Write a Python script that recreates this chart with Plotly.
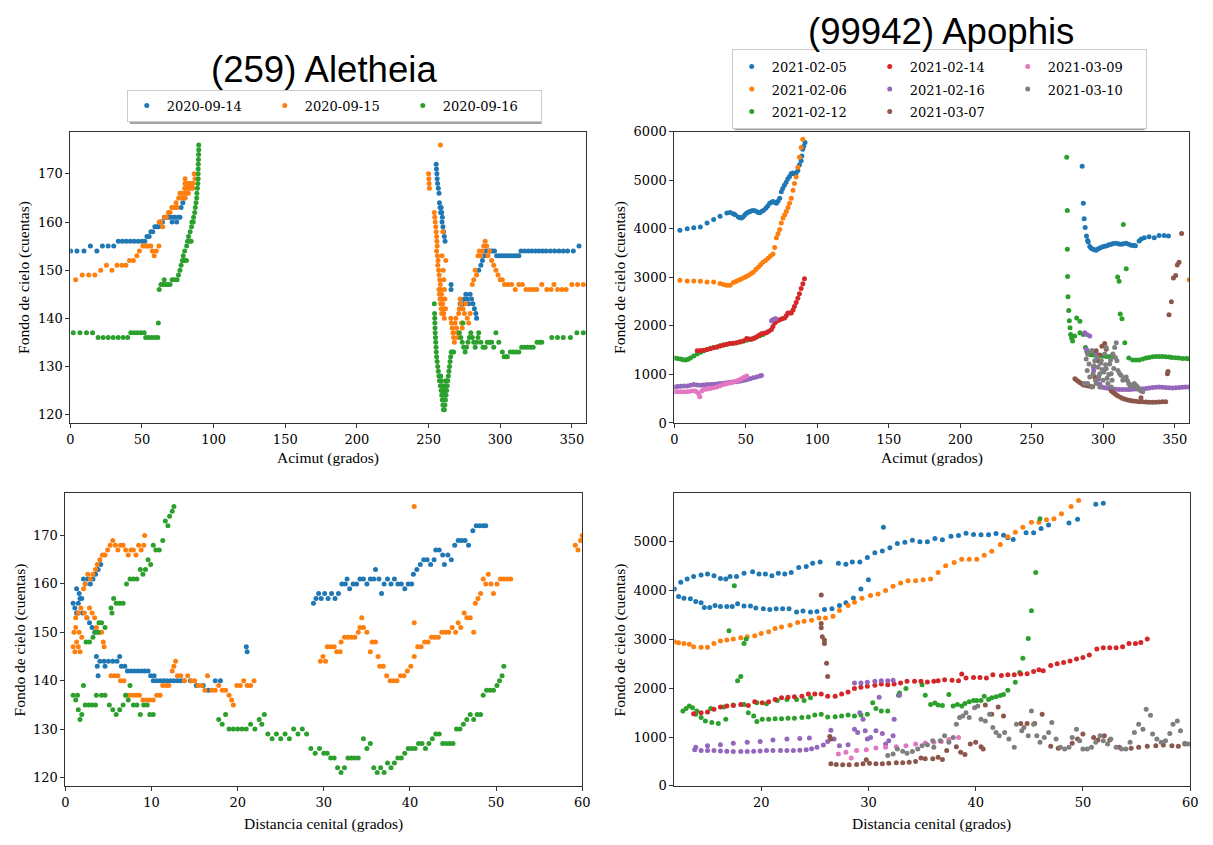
import plotly.graph_objects as go

W, H = 1213, 845

ALE_TITLE = "(259) Aletheia"
APO_TITLE = "(99942) Apophis"
ALE_DATES = ["2020-09-14", "2020-09-15", "2020-09-16"]
APO_DATES = ["2021-02-05", "2021-02-06", "2021-02-12", "2021-02-14",
             "2021-02-16", "2021-03-07", "2021-03-09", "2021-03-10"]
COLORS = ["#1f77b4", "#ff7f0e", "#2ca02c", "#d62728",
          "#9467bd", "#8c564b", "#e377c2", "#7f7f7f"]

AZ_TICKS = [0, 50, 100, 150, 200, 250, 300, 350]
ZD_TICKS_L = [0, 10, 20, 30, 40, 50, 60]
ZD_TICKS_R = [20, 30, 40, 50, 60]
ALE_Y_TICKS = [120, 130, 140, 150, 160, 170]
APO_Y_TICKS_TOP = [0, 1000, 2000, 3000, 4000, 5000, 6000]
APO_Y_TICKS_BOT = [0, 1000, 2000, 3000, 4000, 5000]

# ---------------- (259) Aletheia : sky background vs azimuth ----------------
ALE_AZ_0914 = [(0.2,154),(4.6,154),(9.5,154),(14,155),(18.5,154),(22.4,155),(26.4,155),(30.3,155),(33.5,156),(36.3,156),(39,156),(41.8,156),(44.5,156),(47.3,156),(50,156),(52,156),(53.5,157),(55,157),(56.2,158),(57.5,158),(59,159),(60.3,159),(61.6,159),(63,160),(64.3,160),(65.6,161),(67,161),(68.3,161),(69.6,161),(71,160),(72,161),(73,161),(74.2,160),(75.4,161),(76.5,161),(77.3,163),(78.5,164),(80,165),
    (255.3,172),(255.5,171),(255.8,170),(256,169),(256.3,168),(256.8,167),(257.3,166),(257.6,164),(258,163),(258.4,162),(258.8,163),(259.2,162),(259.6,161),(259.4,160),(260,159),(260.5,158),(261,157),(261.5,156),(265.7,147),(265.7,146),(272,143),(273,142),(274,143),(275,144),(276,145),(277,144),(278,143),(279,145),(280,144),(281,143),(282,142),(283,141),(283.5,140),(285,150),(286.5,151),(287.6,152),(288.8,153),(290,154),(291.5,154),(293,154),(294.5,154),(296,154),(297.5,153),(299.5,153),(301.5,153),(303.5,153),(305.5,153),(307.5,153),(309.5,153),(311.5,153),(313,153),(314.5,154),(317,154),(319.5,154),(322,154),(324.5,154),(327,154),(329.5,154),(332,154),(335,154),(338,154),(341,154),(344,154),(347,154),(351,154),(355,155)]
ALE_AZ_0915 = [(3.7,148),(8.3,149),(12.9,149),(17.1,149),(21.2,150),(25.2,151),(29,150),(32.6,151),(36,151),(38.8,151),(41.3,152),(44,152),(46.4,153),(48.2,154),(50.6,155),(52,155),(53.4,155),(54.8,155),(56.2,155),(57.2,154),(58.5,153),(60,154),(61.8,155),(62,160),(63.2,160),(64.4,159),(65.8,161),(67,161),(68.4,162),(69.6,162),(70.8,163),(72,163),(73.2,163),(74.4,163),(73.8,164),(75.6,165),(77,165),(78.5,165),(80,165),(76.5,166),(78,166),(79.5,166),(81,166),(82.4,166),(79.8,167),(81.2,167),(82.6,167),(84,167),(85.4,167),(80,168),(81.4,168),(82.8,168),(84.2,168),(85.6,168),(80.1,169),(86.4,170),(87,169),
    (250,170),(250.2,169),(250.4,168),(250.6,167),(258.3,176),(254,162),(254.3,161),(254.6,160),(255,159),(255.3,158),(255.6,157),(260,158),(255.8,156),(256,155),(255.6,154),(256.2,153),(256.6,152),(256.4,151),(257,150),(257.4,149),(257.8,148),(258.2,147),(258.6,146),(259,145),(259.4,144),(259.8,143),(260.2,142),(260.6,141),(261,140),(257.2,146),(257.6,145),(258,144),(258.4,143),(258.8,142),(259.2,141),(260.2,150),(260.6,148),(261,146),(261.4,144),(261.8,142),(262,152),(259.4,153),(265.5,140),(266,139),(266.5,138),(267,137),(267.5,136),(268,135),(268.5,139),(269,140),(269.5,138),(270,137),(270.5,136),(271,141),(271.5,142),(272,144),(272.5,143),(273,139),(273.5,138),(274,142),(275,141),(276,143),(277,140),(278,139),(279,141),(280.5,147),(281.5,148),(282.5,150),(283.5,149),(284.5,153),(285.5,154),(286.5,153),(287.5,154),(288.5,155),(289.5,156),(290.5,155),(291.5,153),(292.5,154),(294,152),(295.5,151),(297,150),(298.5,149),(300,148),(301.5,148),(303,147),(305.5,147),(308,147),(310.5,146),(313,147),(315.5,147),(318,146),(320.5,146),(323,146),(325.5,146),(329,147),(332.5,146),(335.5,146),(337.5,147),(340,146),(343,146),(346,146),(350,147),(354,147),(358,147)]
ALE_AZ_0916 = [(2,137),(6.7,137),(11.3,137),(15.5,137),(19.4,136),(22.9,136),(26.4,136),(29.9,136),(33.4,136),(36.9,136),(40,136),(42.2,137),(44.5,137),(46.8,137),(49.2,137),(51.5,137),(52.6,136),(54.7,136),(56.8,136),(59,136),(61,136),(61.4,139),(62,146),(63.2,147),(64.8,147),(66.4,147),(68,147),(69.6,147),(65.5,148),(71,148),(72.8,148),(74.5,148),(75.5,149),(76.5,150),(77.3,151),(78.2,152),(79.5,152),(81,152),(78.8,153),(79.8,154),(81.2,155),(81.8,156),(83,156),(84.3,156),(82.5,157),(83.6,158),(84.6,159),(84.8,160),(85.8,160),(86,161),(86.8,162),(87.2,163),(87.7,164),(88.2,165),(88.3,166),(88.7,167),(89,168),(89.2,169),(89.2,170),(89.2,171),(89.3,172),(89.4,173),(89.5,174),(89.6,175),(89.6,176),
    (254,143),(254.2,141),(254.3,140),(254.4,139),(254.5,138),(254.6,137),(254.8,136),(255,135),(255.2,134),(255.4,133),(255.6,132),(256,131),(256.4,130),(256.8,129),(257.2,128),(257.6,127),(258.2,126),(258.8,125),(259.2,124),(259.6,123),(260,122),(260.4,121),(261,121),(261.4,122),(261.8,123),(262.2,124),(262.6,125),(263,126),(263.4,127),(263.8,128),(264.2,129),(264.6,130),(265,131),(265.4,132),(265.8,133),(258.5,128),(259,127),(259.5,126),(260,125),(260.5,124),(261,125),(261.5,126),(262,127),(266.5,133),(267.5,133),(271.5,137),(272.5,136),(273.5,135),(274,139),(274.5,134),(275.5,133),(276.5,134),(277.5,135),(278.5,136),(279.5,137),(280.5,136),(281.5,135),(282.5,134),(283.5,135),(284.5,136),(285,137),(286.5,135),(288,134),(289.5,134),(291,135),(292.5,135),(294,135),(295.5,134),(297,137),(299,135),(301.5,133),(302.7,132),(304,132),(305,132),(307,133),(309,133),(311,133),(313,133),(315,134),(317,134),(319,134),(321,134),(323,134),(325.7,135),(327.5,135),(329,135),(336,136),(340,136),(344,136),(349,136),(353.5,137),(358,137)]

# ---------------- (259) Aletheia : sky background vs zenith distance ----------------
ALE_ZD_0914 = [(0.9,156),(1.1,155),(1.3,154),(1.5,156),(1.7,157),(1.3,159),(1.6,158),(1.9,157),(2.1,161),(2.3,160),(2.6,161),(2.9,160),(3.2,161),(3.5,162),(3.8,163),(4.1,164),(1.5,154),(2,154),(2.5,153),(2.8,152),(3.1,151),(3.4,150),(3.6,145),(3.7,143),(3.8,141),(4,144),(4.5,144),(5,144),(5.5,144),(6,144),(4.6,143),(6.3,145),(6.5,143),(6.9,143),(7.2,142),(7.6,142),(8,142),(8.4,142),(8.8,142),(9.2,142),(9.6,142),(9.9,141),(10.3,141),(10.2,140),(10.6,140),(11,140),(11.4,140),(11.8,140),(12.2,140),(12.6,140),(13,140),(13.4,140),(13.8,140),(14.5,140),(15.2,139),(16,139),(16.6,138),(17.4,140),(18,140),(21,147),(21.1,146),
    (28.8,156),(29.1,157),(29.4,158),(29.7,157),(30.1,158),(30.5,157),(30.9,158),(31.3,157),(31.7,158),(32.1,160),(32.5,160),(32.7,161),(33,159),(33.4,160),(33.8,160),(34.2,161),(34.6,161),(35,160),(35.4,161),(35.8,161),(36,163),(36.4,161),(36.7,158),(37,160),(37.4,161),(37.8,160),(38.2,161),(38.6,160),(39,160),(39.4,159),(39.8,160),(40.2,160),(40.4,162),(40.8,163),(41.2,164),(41.6,165),(42,165),(42.4,164),(42.8,165),(43,167),(43.4,167),(43.8,166),(44,164),(44.4,166),(44.8,165),(45.2,168),(45.6,169),(46,169),(46.4,169),(46.8,168),(47.3,171),(47.7,172),(48.1,172),(48.5,172),(48.8,172)]
ALE_ZD_0915 = [(0.9,147),(1.1,146),(1.3,148),(1.5,147),(1.7,146),(1.0,150),(1.2,151),(1.6,150),(1.9,149),(1.2,153),(1.5,154),(1.8,155),(2.2,154),(2.5,153),(2.8,155),(3.1,154),(3.4,153),(3.6,151),(3.9,150),(4.2,150),(4.4,148),(4.5,147),(2.1,159),(2.3,160),(2.6,162),(2.9,161),(3.2,162),(3.5,163),(3.7,164),(4.0,165),(4.3,166),(4.6,166),(4.9,167),(5.2,168),(5.5,169),(5.8,168),(6.1,167),(6.4,168),(6.7,168),(7.0,167),(7.3,166),(7.6,167),(7.9,167),(8.2,166),(8.5,168),(8.8,167),(9.1,168),(9.2,170),
    (5.3,141),(5.7,141),(6.1,141),(6.4,140),(6.8,140),(7.0,137),(7.4,137),(7.8,137),(8.2,137),(8.6,137),(9.0,136),(9.4,136),(9.8,136),(10.2,136),(10.6,137),(11.0,137),(11.3,139),(11.7,139),(12.0,139),(12.4,142),(12.6,143),(12.8,144),(13.0,141),(13.4,141),(13.8,140),(14.2,141),(14.6,140),(15.0,140),(15.4,139),(15.8,139),(16.2,138),(16.5,141),(17.0,138),(17.4,138),(17.8,139),(18.2,138),(18.6,138),(19.0,137),(19.3,136),(19.5,135),(19.9,139),(20.3,139),(20.7,140),(21.1,139),(21.5,139),(21.9,140),
    (29.6,144),(29.9,145),(30.2,144),(30.4,147),(30.8,147),(31.2,147),(31.5,146),(31.9,146),(32.0,148),(32.4,149),(32.8,149),(33.2,149),(33.6,149),(34.0,150),(34.2,151),(34.6,151),(34.4,153),(35.0,150),(35.4,146),(35.6,148),(36.0,148),(36.3,145),(36.5,143),(36.9,143),(37.3,141),(37.7,140),(38.1,140),(38.5,140),(38.9,141),(39.3,141),(39.7,142),(40.1,143),(40.5,145),(40.5,152),(40.5,176),(40.9,147),(41.3,147),(41.7,148),(42.1,148),(42.5,149),(42.9,149),(43.3,149),(43.7,150),(44.1,150),(44.5,150),(44.9,151),(45.3,150),(45.6,152),(45.9,151),(46.3,154),(46.6,153),(47.0,153),(47.4,150),(47.6,156),(47.9,157),(48.2,158),(48.5,161),(48.8,160),(49.1,162),(49.4,160),(49.7,158),(50.1,160),(50.5,161),(50.9,161),(51.3,161),(51.7,161),(59.2,168),(59.5,167),(59.8,169),(60.0,170)]
ALE_ZD_0916 = [(0.9,137),(1.2,136),(1.4,137),(1.5,134),(1.7,132),(1.9,133),(2.1,139),(2.3,135),(2.7,135),(3.1,135),(3.5,135),(2.4,148),(2.8,148),(3.2,149),(3.5,150),(3.8,150),(3.6,137),(3.9,152),(4.2,152),(4.6,151),(4.2,137),(4.6,137),(5.1,135),(5.3,155),(5.4,154),(5.6,157),(5.9,156),(6.3,156),(6.7,156),(5.5,134),(5.9,133),(6.3,134),(6.7,135),(7.1,160),(7.5,161),(7.9,161),(8.3,161),(8.7,163),(9,162),(9.3,163),(9.6,165),(9.9,164),(10.2,168),(10.5,167),(10.9,167),(11.3,169),(11.6,173),(11.9,172),(12.1,174),(12.4,175),(12.6,176),(7,137),(7.3,136),(7.5,139),(7.9,135),(8.3,135),(8.7,133),(9.1,135),(9.5,135),(9.8,133),(10.2,133),
    (17.8,132),(18.2,131),(18.6,133),(19,130),(19.5,130),(20,130),(20.5,130),(21,130),(21.5,131),(22,130),(22.5,132),(22.8,131),(23.1,133),(23.5,129),(24,128),(24.5,129),(25,128),(25.5,129),(26,128),(26.5,130),(27,129),(27.5,130),(28,129),(28.5,126),(29,125),(29.5,126),(30,125),(30.4,125),(30.8,124),(31.2,124),(31.6,122),(32,121),(32.4,122),(32.8,124),(33.2,124),(33.6,124),(34,124),(34.6,128),(35,126),(35.4,127),(35.8,122),(36.2,121),(36.6,122),(37,121),(37.4,123),(37.8,122),(38.2,123),(38.6,124),(39,124),(39.4,125),(39.8,126),(40.2,126),(40.6,126),(41,127),(41.4,127),(41.8,126),(42.2,127),(42.6,128),(43,129),(43.4,129),(43.8,127),(44.2,127),(44.6,127),(45,127),(45.4,130),(45.8,130),(46.2,131),(46.6,132),(47,133),(47.4,132),(47.8,133),(48.2,133),(48.5,137),(48.9,138),(49.3,138),(49.7,138),(50.1,139),(50.4,140),(50.7,141),(50.9,143)]

# ---------------- (99942) Apophis : sky background vs azimuth ----------------
APO_AZ_0205 = [(3.9,3973),(9,4000),(13.6,4020),(18.2,4040),(22.9,4120),(27.5,4190),(32,4257),(36.7,4324),(39,4338),(41.3,4310),(42.5,4290),(44.8,4243),(46,4230),(47,4223),(48.2,4250),(49.4,4290),(50.5,4320),(51.7,4340),(52.9,4358),(54.2,4370),(55.7,4378),(57.2,4360),(58.7,4338),(59.8,4330),(61,4358),(62.3,4380),(64,4426),(65.3,4470),(66.7,4527),(68,4550),(69,4561),(70.2,4550),(71.4,4527),(72.5,4570),(73.7,4628),(74.8,4764),(75.8,4830),(77,4899),(78.2,4960),(79.4,5034),(80.6,5080),(81.7,5135),(82.8,5150),(84,5135),(85.2,5150),(86.4,5203),(87.5,5320),(88.7,5405),(89.2,5500),(89.8,5642),(90.5,5700),(91.4,5777),
    (285.2,5291),(286,4527),(286.6,4210),(287.3,4027),(288.2,3851),(289,3760),(289.4,3730),(290.5,3635),(291.5,3600),(292.8,3581),(294,3570),(295,3561),(296.5,3590),(298,3610),(299.5,3630),(301,3640),(302.5,3650),(304,3670),(305.5,3683),(307,3700),(309,3703),(311,3690),(312.5,3683),(314,3695),(316,3703),(317.8,3680),(319.4,3662),(321,3655),(322.4,3649),(325,3750),(326.5,3790),(328.6,3818),(332,3838),(335.6,3818),(339,3865),(342.5,3865),(345.5,3851)]
APO_AZ_0206 = [(3.9,2939),(9,2926),(13.6,2926),(18.2,2919),(22.9,2905),(27.5,2905),(32,2872),(34.5,2855),(36.7,2838),(39,2838),(41.3,2892),(43,2915),(44.8,2939),(46.5,2960),(48.3,2987),(50,3015),(51.7,3041),(53.5,3075),(55.2,3108),(57,3160),(58.7,3209),(60.3,3260),(62,3311),(63.8,3350),(65.6,3392),(67.3,3440),(69,3480),(70.2,3615),(71.4,3818),(72.5,3900),(73.7,3987),(74.8,4122),(76,4223),(77.2,4290),(78.3,4358),(79.5,4440),(80.6,4527),(81.8,4628),(83,4797),(84,4932),(85.2,5068),(86.4,5270),(87.5,5473),(88.7,5676),(89.8,5845),
    (360,2953)]
APO_AZ_0212 = [(0,1338),(2.2,1330),(4.4,1318),(6.2,1305),(7.9,1297),(9.6,1315),(11.3,1338),(13.6,1380),(16,1419),(18.3,1455),(20.6,1487),(22.9,1515),(25.2,1541),(27.5,1555),(29.8,1568),(32.1,1590),(34.4,1608),(36.7,1620),(39,1635),(41.3,1645),(43.6,1655),(46,1670),(48.3,1689),(50.6,1705),(52.9,1723),(55.2,1745),(57.5,1770),(59.8,1795),(62,1824),(64.4,1858),
    (274.4,5473),(274.8,4378),(274.8,3581),(275,3020),(275.3,2601),(275.8,2318),(276.2,2108),(276.7,1960),(277.1,1824),(277.8,1750),(278.5,1689),(279.9,1790),(281.3,2162),(283.6,2095),(283.6,1858),(285.9,1824),(287.5,1554),(288.5,1470),(289.4,1419),(291,1405),(292.8,1399),(295,1392),(297.5,1385),(300,1378),(302,1372),(304.5,1368),(306.7,1365),(310,3007),(311,2919),(311.8,2243),(313,2149),(314,4088),(316,3176),(315,1655),(317.8,1338),(320.5,1297),(322.8,1300),(325,1297),(327.5,1320),(329.8,1338),(332,1350),(334.4,1365),(336.7,1370),(339,1372),(341.3,1368),(343.6,1365),(346,1358),(348,1351),(350.5,1345),(352.9,1338),(355.5,1330),(358,1326),(359.8,1324)]
APO_AZ_0214 = [(16,1487),(18.3,1493),(20.6,1500),(22.9,1512),(25.2,1527),(27.5,1548),(29.8,1568),(32.1,1588),(34.4,1608),(36.7,1620),(39,1635),(41.3,1645),(43.6,1655),(46,1672),(48.3,1689),(50.6,1743),(52.3,1730),(54,1723),(55.8,1745),(57.5,1770),(59.2,1805),(60.9,1838),(62.6,1850),(64.4,1858),(66.1,1890),(67.9,1926),(69,1990),(70.2,2061),(72,2100),(73.7,2128),(75.4,2145),(77.1,2162),(78.3,2210),(79.4,2264),(80.6,2264),(81.8,2264),(83,2330),(84,2399),(85.2,2480),(86.4,2568),(87.5,2660),(88.7,2770),(89.9,2870),(91,2973)]
APO_AZ_0216 = [(0,743),(2.2,750),(4.4,757),(6.7,760),(9,764),(11.3,778),(13.6,791),(15.9,784),(18.2,777),(20.5,784),(22.9,791),(25.2,794),(27.5,797),(29.8,804),(32,811),(34.4,821),(36.7,831),(39,838),(41.3,845),(43.6,851),(46,858),(48.3,875),(50.6,892),(52.9,912),(55.2,932),(57.5,949),(59.8,966),(61,980),(68,2108),(69,2128),(70,2140),(71,2149),
    (287,1858),(288.5,1824),(290.5,1790),(288.2,1520),(292.4,1487),(293,1149),(293.3,1081),(295,1419),(296.5,900),(297.5,800),(298.6,743),(300.3,733),(302,723),(304.3,713),(306.7,703),(309,696),(311.3,689),(313.6,689),(316,689),(318.2,692),(320.5,696),(322.8,700),(325,703),(327.4,706),(329.8,710),(332,720),(334.4,730),(336.7,737),(339,743),(341.3,737),(343.6,730),(346,726),(348.3,723),(350.6,726),(352.9,730),(355.2,735),(357.5,740),(359.8,743)]
APO_AZ_0307 = [(280.1,912),(281.2,885),(282.4,858),(283.6,835),(284.8,811),(285.9,790),(287,777),(288.8,766),(290.5,757),(292.5,745),(294,946),(295,1487),(296.3,1284),(297.5,1400),(300.9,1635),(302,1520),(299,1580),(305.5,662),(306.7,635),(307.9,608),(309,580),(310.2,554),(312,530),(313.6,507),(315.3,490),(317,473),(318.8,463),(320.5,453),(322.8,446),(325,439),(326.3,520),(327.5,436),(329.8,432),(332,429),(334.4,426),(336.7,428),(339,432),(341.3,436),(343.6,439),(344.8,1014),(345.2,1060),(345.9,2230),(347.6,2500),(349,2987),(350.6,3041),(351.7,3257),(352.9,3311),(354.7,3906)]
APO_AZ_0309 = [(0,642),(2.2,642),(4.4,642),(6.7,642),(9,642),(11.3,652),(13.6,662),(15.3,650),(17,608),(17.8,540),(19.2,660),(20.6,689),(22.9,700),(25.2,710),(27.5,726),(29.8,743),(32.1,767),(34.4,791),(36.7,808),(39,824),(41.3,845),(43.6,865),(45.3,888),(47,912),(48.8,940),(50.6,966)]
APO_AZ_0310 = [(286.8,811),(288,1318),(288.7,1081),(289,811),(289,1419),(290,1216),(290.5,946),(291.7,743),(291.7,1487),(292.8,1014),(293.5,1180),(294,1284),(294.5,880),(295,811),(295.8,1350),(296.3,1149),(296.8,960),(297.5,1014),(297.5,743),(298,1230),(298.6,1284),(299.2,1100),(299.8,878),(300.4,1050),(300.9,1419),(301.5,1200),(302,1115),(302,1554),(302.6,920),(303.2,811),(303.8,1000),(304.4,1216),(305,1300),(305.5,1014),(305.5,743),(306.1,880),(306.7,1419),(307.3,1120),(307.9,1554),(308.4,1350),(309,1655),(309.5,1284),(310.2,1081),(311.3,1020),(312.5,980),(313.6,878),(314.8,920),(316,946),(316.9,870),(317.8,811),(318.6,780),(319.4,743),(320.5,790),(321.7,811),(322.8,770),(324,743),(324.8,700),(325.6,676),(326.5,660),(327.5,642)]

# ---------------- (99942) Apophis : sky background vs zenith distance ----------------
APO_ZD_0205 = [(11.9,4034),(12.5,4169),(13.1,4237),(13.7,4291),(14.4,4318),(15,4338),(15.6,4304),(16.2,4250),(16.7,4237),(17.1,4291),(17.7,4291),(18.4,4358),(19.2,4385),(19.8,4338),(20.4,4338),(21,4304),(21.6,4358),(22.2,4338),(22.8,4372),(23.5,4473),(24.2,4493),(24.8,4561),(25.5,4588),(27.2,4561),(27.9,4541),(28.5,4588),(29.2,4588),(29.9,4676),(30.6,4777),(31.3,4811),(31.4,5297),(32,4878),(32.7,4966),(33.4,4993),(34.1,5034),(34.8,5000),(35.5,5000),(36.2,5068),(36.9,5041),(37.7,5115),(38.4,5128),(39.1,5176),(39.8,5149),(40.5,5142),(41.2,5142),(41.9,5169),(42.6,5135),(43,5081),(43.5,5047),(44.7,5183),(45.4,5183),(46.1,5270),(46.8,5345),(48.7,5385),(49.5,5460),(51.2,5770),(51.9,5791),
    (12.3,3878),(12.8,3845),(13.4,3831),(13.9,3777),(14.4,3750),(14.7,3655),(15.2,3655),(15.7,3696),(16.2,3676),(16.8,3676),(17.3,3676),(17.8,3730),(18.4,3683),(19,3683),(19.5,3642),(20.2,3628),(20.8,3615),(21.4,3628),(22,3628),(22.6,3628),(23.3,3561),(23.9,3581),(24.6,3561),(25.2,3574),(25.9,3615),(26.6,3628),(27.3,3696),(27.9,3750),(28.6,3851),(29.3,4034),(30,4223)]
APO_ZD_0206 = [(11.9,2953),(12.3,2932),(12.8,2919),(13.3,2899),(13.7,2851),(14.4,2838),(15,2838),(15.6,2919),(16.2,2966),(16.8,2987),(17.4,3007),(18.1,3034),(18.7,3054),(19.4,3074),(20,3122),(20.7,3155),(21.3,3223),(21.9,3257),(22.7,3291),(23.4,3345),(24,3372),(24.7,3392),(25.4,3439),(26,3439),(26.7,3473),(27.3,3595),(28.1,3696),(28.7,3764),(29.4,3845),(30.2,3899),(30.9,3933),(31.6,4000),(32.3,4088),(33,4156),(33.7,4203),(34.4,4203),(35.1,4223),(35.8,4237),(36.5,4372),(37.2,4507),(38,4574),(38.7,4642),(39.4,4642),(40.1,4642),(40.8,4723),(41.5,4804),(42.3,4946),(43,5101),(43.7,5196),(44.4,5297),(45.2,5399),(45.9,5399),(46.6,5453),(47.3,5473),(48,5574),(48.9,5723),(49.6,5845)]
APO_ZD_0212 = [(12.7,1534),(13,1588),(13.3,1635),(13.6,1601),(13.9,1466),(14.4,1399),(14.8,1331),(15.4,1297),(16,1277),(16.7,1365),(18.8,1500),(19.3,1432),(19.6,1318),(20.1,1365),(20.7,1365),(21.3,1378),(21.9,1378),(22.5,1385),(23.1,1385),(23.8,1399),(24.4,1412),(25,1453),(25.6,1466),(26.2,1412),(26.9,1419),(27.5,1432),(28.1,1453),(28.7,1432),(29.3,1453),(29.9,1466),(30.4,1703),(30.7,1588),(31.2,1534),(31.8,1534),
    (14,1534),(15.3,1588),(16.5,1615),(17.4,1655),(18.4,1669),(19.6,1703),(20.5,1682),(21.5,1750),(22.4,1770),(23.3,1770),(24,1750),(24.6,1804),
    (17.5,4101),(17,3176),(18.4,2919),(18.6,3007),(17.8,2155),(18.1,2243),(33.5,1993),(32.9,1905),(32.8,1858),(35.3,1858),(35,2074),(35.8,1669),
    (36.2,1696),(36.5,1655),(36.9,1649),(37.5,1872),(37.9,1635),(38.3,1669),(38.7,1635),(39,1689),(39.4,1723),(39.8,1750),(40.1,1750),(40.5,1750),(40.8,1838),(41.2,1770),(41.5,1804),(41.9,1824),(42.3,1851),(42.6,1872),(43,1959),(43.7,2122),(44.1,2324),(44.4,2615),(44.9,3020),(45.2,3588),(45.6,4372),(46,5473)]
APO_ZD_0214 = [(13.7,1480),(14.4,1500),(15,1514),(15.6,1568),(16.2,1615),(16.8,1635),(17.4,1649),(18.1,1669),(18.8,1649),(19.4,1723),(20.1,1703),(20.7,1723),(21.3,1770),(21.9,1804),(22.5,1818),(23.1,1824),(23.8,1838),(24.4,1885),(25,1885),(25.6,1885),(26.2,1838),(26.9,1838),(27.5,1885),(28.1,1926),(28.7,1993),(29.3,2020),(29.9,2040),(30.6,2061),(31.2,2088),(31.8,2074),(32.4,2088),(33,2108),(33.6,2142),(34.3,2142),(34.9,2142),(35.5,2128),(36.1,2142),(36.5,2155),(37.1,2176),(37.8,2162),(38.4,2155),(38.7,2291),(39.1,2209),(39.8,2223),(40.4,2223),(41,2209),(41.6,2277),(42.4,2264),(43,2277),(43.6,2277),(44.2,2291),(44.8,2297),(45.4,2345),(45.9,2378),(46.3,2358),(47,2466),(47.6,2500),(48.2,2527),(48.8,2561),(49.4,2601),(50,2628),(50.6,2682),(51.3,2804),(51.9,2831),(52.5,2831),(53.1,2831),(53.7,2851),(54.3,2919),(54.9,2919),(55.4,2939),(56,3007)]
APO_ZD_0216 = [(13.9,791),(15,824),(16.2,845),(17.4,872),(18.7,892),(19.9,912),(21.1,939),(22.4,959),(23.6,973),(24.5,980),
    (13.8,740),(14.4,723),(15,725),(15.6,723),(16.2,716),(16.8,710),(17.4,706),(18.1,703),(18.7,706),(19.3,710),(19.9,716),(20.5,723),(21.1,723),(21.8,723),(22.4,723),(23,723),(23.6,733),(24.2,743),(24.7,760),(25.2,791),(25.8,838),(26.2,912),
    (26.5,1142),(26.8,959),(27.3,824),(28.1,845),(28.7,2108),(29.3,2108),(29.9,2122),(30.6,2142),(31.2,2155),(31.8,2155),(32.3,2162),(29.2,1500),(29.5,1365),(28.7,1162),(29,1095),(29.7,1128),(29.9,959),(30.2,993),(30.7,1128),(31,1818),(31.3,1074),(31.6,858),(31.9,926),(32.3,1027),(32.4,1365),(32.9,1858)]
APO_ZD_0307 = [(25.6,3912),(25.6,3324),(25.6,3237),(25.7,3054),(25.9,2987),(25.9,2919),(26.1,2514),(26.2,2243),(26.4,1014),(26.5,959),
    (26.5,453),(27,439),(27.6,432),(28.2,432),(28.9,439),(29.5,453),(29.8,534),(30.1,466),(30.7,453),(31.3,453),(31.9,466),(32.6,473),(33.2,473),(33.8,486),(34.4,500),(34.9,574),(35.3,554),(36,554),(36.5,588),(36.9,540),(37.3,723),(38.2,804),(38.6,689),(39,642),(39.5,858),(40,892),(40.5,804),(40.7,757),(40.9,1655),(41.5,1466),(42.1,1615),(42.6,1432),(44.2,1277),(44.8,1277),(45.5,1277),(46.2,1466),(47,811),(47.7,770),(49,872),(49.5,959),(50,1061),(51,993),(51.4,939),(52,1027),(52.5,939),(53.4,791),(54.5,770),(55.2,791),(56,811),(56.8,824),(57.5,838),(58.3,824),(58.9,811),(59.5,858)]
APO_ZD_0309 = [(27.2,655),(27.9,689),(28.4,574),(28.9,723),(29.8,743),(30.7,777),(31.6,791),(32.6,804),(33.5,824),(34.4,858),(35.3,878),(36.1,892),(36.8,912),(37.5,950),(38.4,993)]
APO_ZD_0310 = [(31.8,622),(32.3,655),(32.7,757),(33.2,710),(33.6,669),(34.1,703),(34.6,757),(35,824),(35.5,845),(36,926),(36.1,791),(36.7,926),(37.1,1027),(37.5,892),(37.9,993),(38.2,1264),(38.5,1399),(38.8,1432),(39.1,1500),(39.4,1399),(39.9,1601),(40.2,1635),(40.5,1365),(40.9,1331),(41.3,1466),(41.6,1196),(41.9,1095),(42.2,1027),(42.7,1095),(43.1,959),(43.6,791),(43.8,1264),(44.3,1128),(44.5,1196),(44.9,1027),(45.2,1534),(45.4,1264),(45.7,1027),(46,892),(46.4,993),(46.8,1095),(47.1,1297),(47.5,959),(47.9,791),(48.3,757),(48.7,791),(49,993),(49.4,1162),(49.7,926),(50,757),(50.4,757),(50.8,791),(51.2,892),(51.6,1027),(51.9,926),(52.3,858),(52.6,959),(53.1,791),(53.6,757),(54,757),(54.4,892),(54.8,1095),(55.2,1264),(55.6,1162),(55.9,1568),(56.3,1446),(56.5,1061),(56.9,959),(57.3,892),(57.7,926),(58.1,1074),(58.4,1264),(58.8,1331),(59.1,1128),(59.5,872),(59.8,858)]

ALE_AZ = [ALE_AZ_0914, ALE_AZ_0915, ALE_AZ_0916]
ALE_ZD = [ALE_ZD_0914, ALE_ZD_0915, ALE_ZD_0916]
APO_AZ = [APO_AZ_0205, APO_AZ_0206, APO_AZ_0212, APO_AZ_0214,
          APO_AZ_0216, APO_AZ_0307, APO_AZ_0309, APO_AZ_0310]
APO_ZD = [APO_ZD_0205, APO_ZD_0206, APO_ZD_0212, APO_ZD_0214,
          APO_ZD_0216, APO_ZD_0307, APO_ZD_0309, APO_ZD_0310]
APO_LEGEND_COLUMN = ["c1", "c1", "c1", "c2", "c2", "c2", "c3", "c3"]


def px(x):
    return x / W


def py(y):
    return 1 - y / H


fig = go.Figure()
MS = 5


def label(text):
    return "<span style='font-size:13px'>" + text + "</span>"


def add_series(pts, xa, ya, name, color, show, legend, group=None):
    xs = [p[0] for p in pts]
    ys = [p[1] for p in pts]
    fig.add_trace(go.Scatter(
        x=xs, y=ys, mode="markers", name=label(name),
        marker=dict(size=MS, color=color, line=dict(width=0)),
        xaxis=xa, yaxis=ya, showlegend=show, legend=legend,
        legendgroup=group, hoverinfo="skip"))


for i, d in enumerate(ALE_DATES):
    add_series(ALE_AZ[i], "x", "y", d, COLORS[i], True, "legend", "a" + d)
    add_series(ALE_ZD[i], "x3", "y3", d, COLORS[i], False, "legend", "a" + d)
for i, d in enumerate(APO_DATES):
    add_series(APO_AZ[i], "x2", "y2", d, COLORS[i], True, "legend2", APO_LEGEND_COLUMN[i])
    add_series(APO_ZD[i], "x4", "y4", d, COLORS[i], False, "legend2", APO_LEGEND_COLUMN[i])

TICKFONT = dict(family="DejaVu Serif", size=13, color="#000")
LINEC = "#333333"


def axis(domain, rng, ticks, anchor):
    return dict(domain=domain, range=rng, tickvals=ticks, anchor=anchor,
                showline=True, mirror=True, linecolor=LINEC, linewidth=1,
                ticks="outside", ticklen=4, tickcolor=LINEC, tickwidth=1,
                showgrid=False, zeroline=False, tickfont=TICKFONT)


TOP = [py(423.5), py(127)]
BOT = [py(793), py(495)]

# legend boxes (pixel positions of the top-left corners and sizes)
L1_X, L1_Y, L1_W, L1_H = 124, 84, 416, 32
L2_X, L2_Y, L2_W, L2_H = 735, 43, 414, 79.5

fig.update_layout(
    width=W, height=H, margin=dict(l=0, r=0, t=0, b=0),
    paper_bgcolor="white", plot_bgcolor="white",
    xaxis=axis([px(67), px(588)], [0, 360], AZ_TICKS, "y"),
    yaxis=axis(TOP, [118.25, 178.75], ALE_Y_TICKS, "x"),
    xaxis2=axis([px(677), px(1197)], [0, 360], AZ_TICKS, "y2"),
    yaxis2=axis(TOP, [0, 6000], APO_Y_TICKS_TOP, "x2"),
    xaxis3=axis([px(62), px(584)], [0, 60], ZD_TICKS_L, "y3"),
    yaxis3=axis(BOT, [118.25, 178.75], ALE_Y_TICKS, "x3"),
    xaxis4=axis([px(677), px(1198)], [11.9, 60], ZD_TICKS_R, "y4"),
    yaxis4=axis(BOT, [0, 5995], APO_Y_TICKS_BOT, "x4"),
    legend=dict(orientation="h", x=px(L1_X), y=py(L1_Y), xanchor="left", yanchor="top",
                font=dict(family="DejaVu Serif", size=13, color="#000"),
                bgcolor="white", bordercolor="#cccccc", borderwidth=1,
                entrywidth=93, entrywidthmode="pixels", tracegroupgap=0),
    legend2=dict(orientation="h", x=px(L2_X), y=py(L2_Y), xanchor="left", yanchor="top",
                 traceorder="grouped",
                 font=dict(family="DejaVu Serif", size=15, color="#000"),
                 bgcolor="white", bordercolor="#cccccc", borderwidth=1,
                 entrywidth=93, entrywidthmode="pixels", tracegroupgap=0),
)

LABFONT = dict(family="Liberation Serif", size=15.5, color="#000")
TITFONT = dict(family="Liberation Sans", size=36.6, color="#000")
ann = [
    dict(text=ALE_TITLE, x=px(323), y=py(64), font=TITFONT),
    dict(text=APO_TITLE, x=px(946), y=py(25), font=TITFONT),
    dict(text="Acimut (grados)", x=px(327.5), y=py(459), font=LABFONT),
    dict(text="Acimut (grados)", x=px(937), y=py(459), font=LABFONT),
    dict(text="Distancia cenital (grados)", x=px(323), y=py(832), font=LABFONT),
    dict(text="Distancia cenital (grados)", x=px(937), y=py(832), font=LABFONT),
    dict(text="Fondo de cielo (cuentas)", x=px(20), y=py(275), font=LABFONT, textangle=-90),
    dict(text="Fondo de cielo (cuentas)", x=px(16), y=py(644), font=LABFONT, textangle=-90),
    dict(text="Fondo de cielo (cuentas)", x=px(622), y=py(275), font=LABFONT, textangle=-90),
    dict(text="Fondo de cielo (cuentas)", x=px(622), y=py(644), font=LABFONT, textangle=-90),
]
for a in ann:
    a.update(xref="paper", yref="paper", showarrow=False, xanchor="center", yanchor="middle")
fig.update_layout(annotations=ann)

# legend drop shadows, offset 3 px right and down from the legend boxes
SH = 3
fig.update_layout(shapes=[
    dict(type="rect", xref="paper", yref="paper",
         x0=px(L1_X + SH), x1=px(L1_X + L1_W + SH),
         y0=py(L1_Y + L1_H + SH), y1=py(L1_Y + SH),
         fillcolor="#a6a6a6", line=dict(width=0), layer="above"),
    dict(type="rect", xref="paper", yref="paper",
         x0=px(L2_X + SH), x1=px(L2_X + L2_W + SH),
         y0=py(L2_Y + L2_H + SH), y1=py(L2_Y + SH),
         fillcolor="#a6a6a6", line=dict(width=0), layer="above"),
])

fig.write_html("out.html")
